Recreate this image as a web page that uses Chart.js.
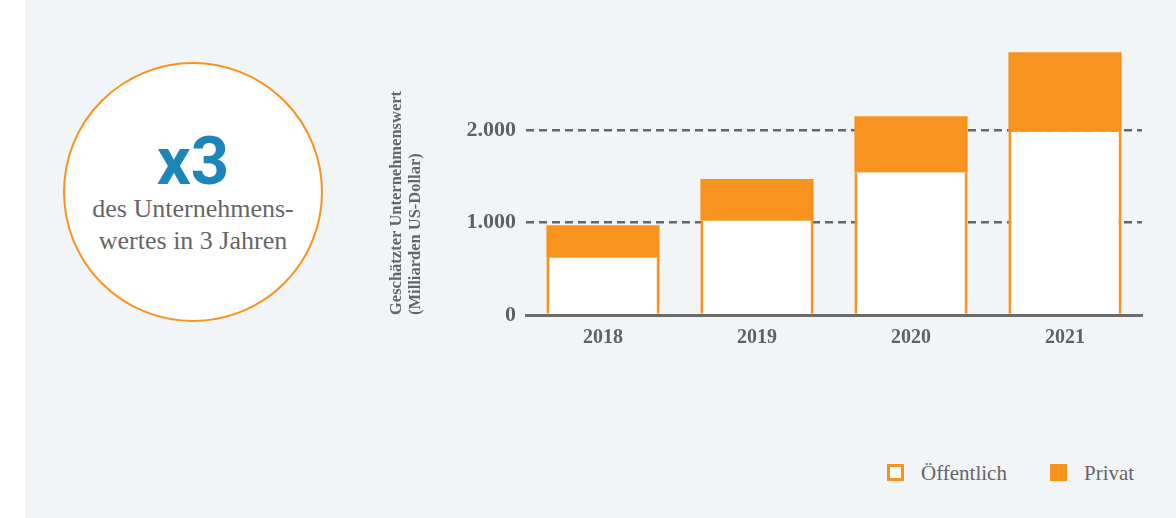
<!DOCTYPE html>
<html lang="de">
<head>
<meta charset="utf-8">
<title>Unternehmenswert</title>
<script src="https://cdn.jsdelivr.net/npm/chart.js@4.4.1/dist/chart.umd.min.js"></script>
<style>
  html, body { margin:0; padding:0; background:#fff; }
  body { width:1176px; height:518px; position:relative; overflow:hidden; }
  .panel { position:absolute; left:25px; top:0; right:0; bottom:0; background:#f2f5f8; }
  .circle { position:absolute; left:63px; top:62px; width:256px; height:256px; border:2px solid #f7931e; border-radius:50%; background:#fff; }
  .big { position:absolute; left:63px; width:260px; top:128px; text-align:center;
         font:bold 67px/67px Roboto, sans-serif; color:#1d86b8; }
  .txt { position:absolute; left:63px; width:260px; top:193px; text-align:center;
         font:26px/32px "Liberation Serif", serif; color:#666; }
  #chart { position:absolute; left:380px; top:0; }
  .legend { position:absolute; top:464px; font:21px/21px "Liberation Serif", serif; color:#666; }
  .legend span.box { position:absolute; top:0; width:17px; height:17px; box-sizing:border-box; }
  .legend span.lbl { position:absolute; top:-1px; white-space:nowrap; }
</style>
</head>
<body>
<div class="panel"></div>
<div class="circle"></div>
<div class="big">x3</div>
<div class="txt">des Unternehmens-<br>wertes in 3 Jahren</div>
<canvas id="chart" width="796" height="360"></canvas>
<div class="legend" id="legend"></div>

<script>
/* ==== Data ==== */
const years = ['2018', '2019', '2020', '2021'];
const publicValues = [620, 1020, 1540, 1980];
const privateValues = [350, 450, 610, 860];
const yTicks = [0, 1000, 2000];
const yMax = 3000;
const seriesNames = ['Öffentlich', 'Privat'];
const axisTitle = ['Geschätzter Unternehmenswert', '(Milliarden US-Dollar)'];

const ORANGE = '#f7931e';
const GREY = '#666666';

function fmt(v){ return String(v).replace(/\B(?=(\d{3})+(?!\d))/g, '.'); }

/* ==== Chart ==== */
const ctx = document.getElementById('chart').getContext('2d');
const chart = new Chart(ctx, {
  type: 'bar',
  data: {
    labels: years,
    datasets: [
      { label: seriesNames[0], data: publicValues, backgroundColor: '#ffffff', borderColor: ORANGE,
        borderWidth: { left: 3, right: 3, top: 0, bottom: 0 }, borderSkipped: false },
      { label: seriesNames[1], data: privateValues, backgroundColor: ORANGE, borderWidth: 0 }
    ]
  },
  options: {
    responsive: false,
    animation: false,
    devicePixelRatio: 1,
    layout: { padding: { top: 37.5, right: 34, left: 0, bottom: 0 } },
    datasets: { bar: { categoryPercentage: 1, barPercentage: 0.735 } },
    plugins: { legend: { display: false }, tooltip: { enabled: false } },
    scales: {
      x: {
        stacked: true,
        grid: { display: false, drawTicks: false },
        border: { display: true, color: '#6b6b6b', width: 3 },
        ticks: { color: '#616161', padding: 11, font: { family: 'Liberation Serif', weight: 'bold', size: 20 } },
        afterFit: s => { s.height = 45; }
      },
      y: {
        stacked: true,
        min: 0,
        max: yMax,
        afterBuildTicks: s => { s.ticks = yTicks.map(v => ({ value: v })); },
        grid: {
          drawTicks: false,
          color: c => (c.tick && c.tick.value === 0) ? 'rgba(0,0,0,0)' : GREY,
          lineWidth: 2.5
        },
        border: { display: false, dash: [8, 5] },
        ticks: { color: '#616161', padding: 10, callback: v => fmt(v),
                 font: { family: 'Liberation Serif', weight: 'bold', size: 22 } },
        title: { display: true, text: axisTitle, align: 'start', color: GREY,
                 padding: { top: 7, bottom: 0 },
                 font: { family: 'Liberation Serif', weight: 'bold', size: 16.5, lineHeight: 1.18 } },
        afterFit: s => { s.width = 146; }
      }
    }
  }
});

/* ==== Legend ==== */
const legendEl = document.getElementById('legend');
const legendX = [887, 1050];
seriesNames.forEach((name, i) => {
  const ds = chart.data.datasets[i];
  const box = document.createElement('span');
  box.className = 'box';
  box.style.left = legendX[i] + 'px';
  box.style.background = ds.backgroundColor;
  if (i === 0) box.style.border = '3px solid ' + ORANGE;
  const lbl = document.createElement('span');
  lbl.className = 'lbl';
  lbl.style.left = (legendX[i] + 34) + 'px';
  lbl.textContent = name;
  legendEl.appendChild(box);
  legendEl.appendChild(lbl);
});
</script>
</body>
</html>
